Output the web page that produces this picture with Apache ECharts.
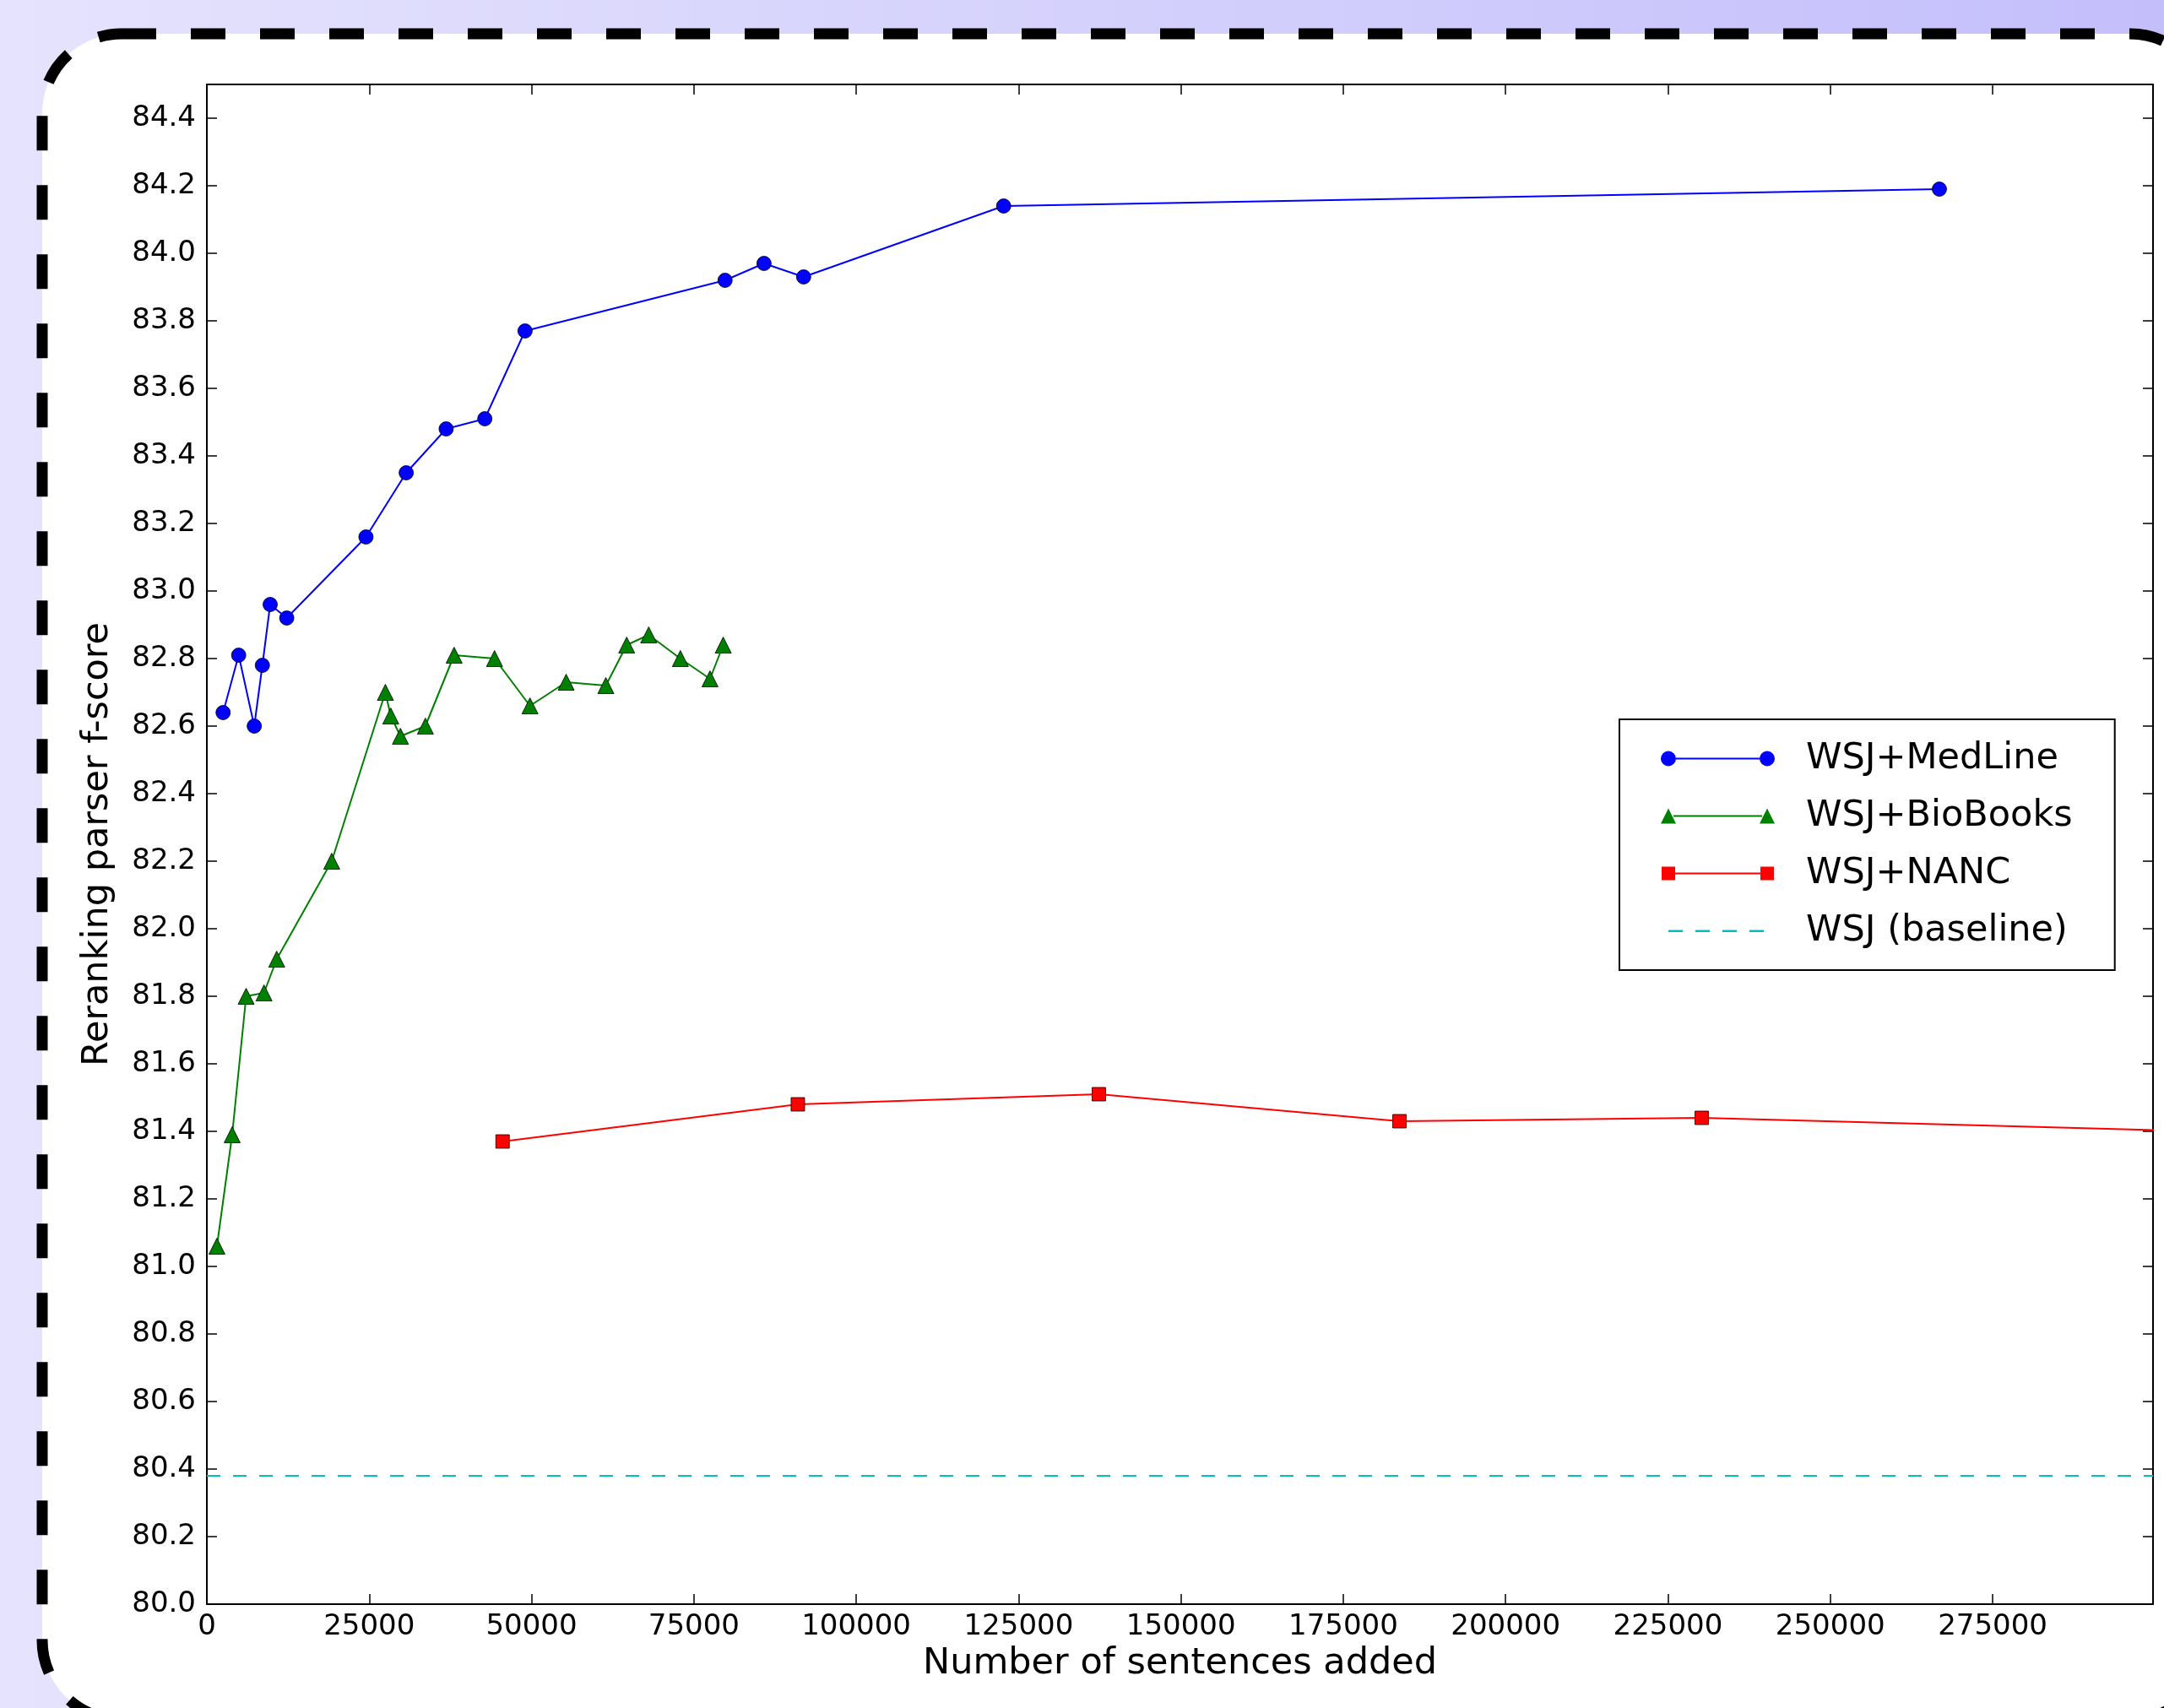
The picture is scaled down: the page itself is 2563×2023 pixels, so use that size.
<!DOCTYPE html>
<html lang="en">

<head>
  <meta charset="UTF-8">
  <title>Reranking parser f-score</title>
  <script type="text/javascript" src="https://cdn.jsdelivr.net/npm/echarts@6/dist/echarts.min.js"></script>
  <style>
    html,
    body {
      margin: 0;
    }

    #chart {
      width: 2563px;
      height: 2023px;
    }
  </style>
</head>

<body>
  <div id="chart"></div>

  <script type="text/javascript">
    // data
    var seriesNames = ['WSJ+MedLine', 'WSJ+BioBooks', 'WSJ+NANC', 'WSJ (baseline)'];

    var medlineX = [2500, 4900, 7300, 8550, 9750, 12300, 24500, 30700, 36850, 42800, 49000, 79800, 85800, 91900, 122700, 266800];
    var medlineY = [82.64, 82.81, 82.60, 82.78, 82.96, 82.92, 83.16, 83.35, 83.48, 83.51, 83.77, 83.92, 83.97, 83.93, 84.14, 84.19];

    var biobooksX = [1550, 3900, 6050, 8800, 10760, 19230, 27490, 28320, 29810, 33650, 38080, 44300, 49760, 55330, 61440, 64650, 68040, 72920, 77480, 79520];
    var biobooksY = [81.06, 81.39, 81.80, 81.81, 81.91, 82.20, 82.70, 82.63, 82.57, 82.60, 82.81, 82.80, 82.66, 82.73, 82.72, 82.84, 82.87, 82.80, 82.74, 82.84];

    // last NANC point lies past the right edge of the axes
    var nancX = [45540, 91010, 137360, 183660, 230200, 460000];
    var nancY = [81.37, 81.48, 81.51, 81.43, 81.44, 81.32];

    var baselineY = 80.38;

    var xMin = 0, xMax = 299700, xStep = 25000;
    var yMin = 80, yMax = 84.5, yStep = 0.2;

    function pairs(xs, ys) {
      return xs.map(function (x, i) { return [x, ys[i]]; });
    }

    // legend icons: two markers joined by a line (M0,0 M135,18 fixes the box)
    var box = 'M0,0 M135,18 ';
    var iconCircle = 'path://' + box +
      'M0,9 A9,9 0 1 1 18,9 A9,9 0 1 1 0,9 Z M18,8 L117,8 L117,10 L18,10 Z M117,9 A9,9 0 1 1 135,9 A9,9 0 1 1 117,9 Z';
    var iconTriangle = 'path://' + box +
      'M0,18 L9,0 L18,18 Z M15,8 L120,8 L120,10 L15,10 Z M117,18 L126,0 L135,18 Z';
    var iconSquare = 'path://' + box +
      'M1,1 L17,1 L17,17 L1,17 Z M17,8 L118,8 L118,10 L17,10 Z M118,1 L134,1 L134,17 L118,17 Z';
    var iconDash = 'path://' + box +
      'M9,8 L26,8 L26,10.5 L9,10.5 Z M41,8 L58,8 L58,10.5 L41,10.5 Z M73,8 L90,8 L90,10.5 L73,10.5 Z M105,8 L122,8 L122,10.5 L105,10.5 Z';

    var font = 'DejaVu Sans';

    var chart = echarts.init(document.getElementById('chart'), null, { renderer: 'canvas' });

    function xAxisOpt(pos, withLabels) {
      return {
        type: 'value',
        position: pos,
        min: xMin,
        max: xMax,
        interval: xStep,
        axisLine: { show: true, onZero: false, lineStyle: { color: '#000', width: 2 } },
        axisTick: { show: true, inside: true, length: 12, lineStyle: { color: '#000', width: 1.5 } },
        axisLabel: {
          show: withLabels,
          showMaxLabel: false,
          color: '#000',
          fontFamily: font,
          fontSize: 34,
          margin: 10,
          formatter: function (v) { return String(v); }
        },
        splitLine: { show: false },
        name: withLabels ? 'Number of sentences added' : '',
        nameLocation: 'middle',
        nameGap: 48,
        nameTextStyle: { color: '#000', fontFamily: font, fontSize: 43 }
      };
    }

    function yAxisOpt(pos, withLabels) {
      return {
        type: 'value',
        position: pos,
        min: yMin,
        max: yMax,
        interval: yStep,
        axisLine: { show: true, onZero: false, lineStyle: { color: '#000', width: 2 } },
        axisTick: { show: true, inside: true, length: 12, lineStyle: { color: '#000', width: 1.5 } },
        axisLabel: {
          show: withLabels,
          showMaxLabel: false,
          color: '#000',
          fontFamily: font,
          fontSize: 34,
          margin: 13,
          formatter: function (v) { return v.toFixed(1); }
        },
        splitLine: { show: false },
        name: withLabels ? 'Reranking parser f-score' : '',
        nameLocation: 'middle',
        nameRotate: 90,
        nameGap: 108,
        nameTextStyle: { color: '#000', fontFamily: font, fontSize: 43 }
      };
    }

    var option = {
      animation: false,
      backgroundColor: new echarts.graphic.LinearGradient(0, 0, 1, 0, [
        { offset: 0, color: '#e5e3fd' },
        { offset: 1, color: '#c4bffb' }
      ]),
      graphic: [
        {
          type: 'rect',
          z: -10,
          silent: true,
          shape: { x: 50, y: 40, width: 2567, height: 1997, r: 94 },
          style: { fill: '#ffffff', stroke: '#000000', lineWidth: 13, lineDash: [41, 41] }
        }
      ],
      grid: {
        left: 245,
        top: 100,
        right: 13,
        bottom: 123,
        containLabel: false
      },
      legend: {
        orient: 'vertical',
        left: 1918,
        top: 852,
        selectedMode: false,
        itemWidth: 135,
        itemHeight: 18,
        itemGap: 25,
        padding: [25, 50, 25, 49],
        borderColor: '#000',
        borderWidth: 2,
        backgroundColor: '#fff',
        itemStyle: { borderWidth: 0 },
        textStyle: { color: '#000', fontFamily: font, fontSize: 43, padding: [0, 0, 0, 32] },
        data: [
          { name: seriesNames[0], icon: iconCircle },
          { name: seriesNames[1], icon: iconTriangle },
          { name: seriesNames[2], icon: iconSquare },
          { name: seriesNames[3], icon: iconDash }
        ]
      },
      xAxis: [xAxisOpt('bottom', true), xAxisOpt('top', false)],
      yAxis: [yAxisOpt('left', true), yAxisOpt('right', false)],
      series: [
        {
          name: seriesNames[0],
          type: 'line',
          data: pairs(medlineX, medlineY),
          color: '#0000ff',
          symbol: 'circle',
          symbolSize: 17,
          lineStyle: { width: 2 },
          itemStyle: { borderColor: '#000', borderWidth: 0.8 }
        },
        {
          name: seriesNames[1],
          type: 'line',
          data: pairs(biobooksX, biobooksY),
          color: '#008000',
          symbol: 'triangle',
          symbolSize: 19,
          lineStyle: { width: 2 },
          itemStyle: { borderColor: '#000', borderWidth: 0.8 }
        },
        {
          name: seriesNames[2],
          type: 'line',
          data: pairs(nancX, nancY),
          color: '#ff0000',
          symbol: 'rect',
          symbolSize: 16,
          clip: true,
          lineStyle: { width: 2 },
          itemStyle: { borderColor: '#000', borderWidth: 0.8 }
        },
        {
          name: seriesNames[3],
          type: 'line',
          data: [[xMin, baselineY], [xMax, baselineY]],
          color: '#00bfbf',
          symbol: 'none',
          lineStyle: { width: 2, type: [16, 15] }
        }
      ]
    };

    chart.setOption(option);
  </script>
</body>

</html>
